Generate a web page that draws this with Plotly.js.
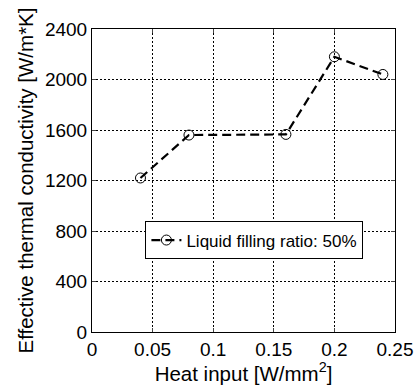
<!DOCTYPE html>
<html><head><meta charset="utf-8">
<script src="https://cdn.plot.ly/plotly-3.0.1.min.js"></script>
<style>html,body{margin:0;padding:0;background:#fff}#c{width:419px;height:385px}</style>
</head><body><div id="c"></div>
<script>
const heatInput = [0.04, 0.08, 0.16, 0.20, 0.24];
const conductivity = [1220, 1560, 1565, 2180, 2040];
const seriesName = 'Liquid filling ratio: 50%';
const xTicks = [0, 0.05, 0.1, 0.15, 0.2, 0.25];
const xTickText = ['0', '0.05', '0.1', '0.15', '0.2', '0.25'];
const yTicks = [0, 400, 800, 1200, 1600, 2000, 2400];

const font = {family: 'Liberation Sans, Arial, sans-serif', color: '#000'};
const f = s => Object.assign({size: s}, font);
Plotly.newPlot('c', [{
  x: heatInput, y: conductivity, name: seriesName, type: 'scatter', mode: 'lines+markers',
  line: {color: '#000', width: 2.2, dash: '9px,5px'},
  marker: {symbol: 'circle-open', size: 10, color: '#000', line: {width: 1, color: '#000'}}
}], {
  width: 419, height: 385,
  margin: {l: 92, r: 24, t: 29, b: 53},
  paper_bgcolor: '#fff', plot_bgcolor: '#fff',
  font: f(18),
  showlegend: true,
  legend: {x: 0.536, y: 0.302, xanchor: 'center', yanchor: 'middle', bgcolor: '#fff',
    bordercolor: '#000', borderwidth: 1, font: f(17), itemwidth: 30, tracegroupgap: 0},
  xaxis: {range: [0, 0.25], tickvals: xTicks, ticktext: xTickText, ticks: 'inside', ticklen: 4,
    showline: true, linecolor: '#000', linewidth: 1, mirror: 'ticks', zeroline: false,
    showgrid: true, gridcolor: '#000', griddash: '2px,2px', gridwidth: 1,
    tickfont: f(19),
    title: {text: 'Heat input [W/mm<sup>2</sup>]', font: f(20.5), standoff: 0}},
  yaxis: {range: [0, 2400], tickvals: yTicks, ticks: 'inside', ticklen: 4,
    showline: true, linecolor: '#000', linewidth: 1, mirror: 'ticks', zeroline: false,
    showgrid: true, gridcolor: '#000', griddash: '2px,2px', gridwidth: 1,
    tickfont: f(19),
    title: {text: 'Effective thermal conductivity [W/m*K]', font: f(20.5), standoff: 5}}
}, {staticPlot: true});
</script></body></html>
